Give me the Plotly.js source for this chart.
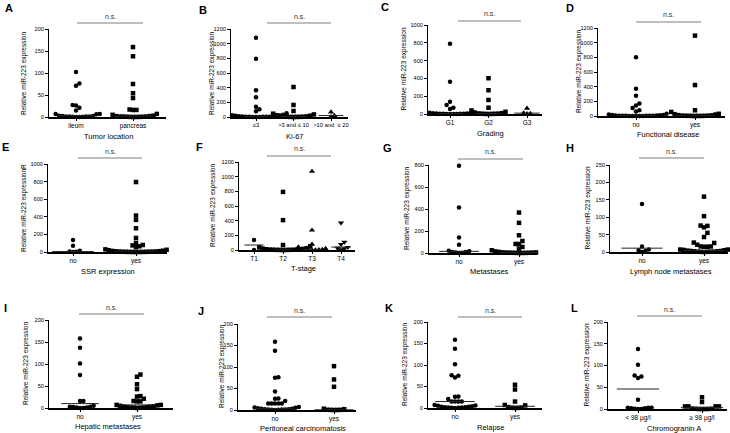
<!DOCTYPE html>
<html><head><meta charset="utf-8">
<script src="https://cdn.plot.ly/plotly-3.0.1.min.js"></script>
<style>html,body{margin:0;padding:0;background:#fff}#chart{width:730px;height:433px}</style>
</head><body><div id="chart"></div>
<script>
const yTitle = 'Relative miR-223 expression';

// A: Tumor location
const catsA = ['ileum', 'pancreas'];
const A_ileum = [102, 76, 71, 27, 26, 21, 15, 7, 7, 6, 3, 2, 2, 1, 1, 1, 1, 0.5, 0.5, 0.2, 0];
const A_pancreas = [159, 138, 75, 54, 43, 17, 16, 16, 7, 5, 3, 2, 2, 1, 1, 1, 0.5, 0.5, 0.3, 0.2, 0.1, 0];
const linesA = [3, 2];

// B: Ki-67
const catsB = ['≤3', '>3 and ≤ 10', '>10 and  ≤ 20'];
const B_le3 = [1080, 795, 365, 268, 141, 105, 77, 50, 40, 30, 25, 20, 16, 12, 10, 8, 6, 5, 4, 3, 2, 2, 1, 1, 0];
const B_3to10 = [409, 164, 82, 45, 35, 25, 18, 12, 8, 6, 4, 3, 2, 1, 1, 0];
const B_10to20 = [68, 20, 5];
const linesB = [5, 5, 20];

// C: Grading
const catsC = ['G1', 'G2', 'G3'];
const C_G1 = [789, 361, 139, 101, 71, 56, 30, 20, 15, 10, 8, 6, 5, 4, 3, 2, 2, 1, 1, 0.5, 0];
const C_G2 = [402, 267, 158, 71, 40, 25, 15, 10, 6, 4, 3, 2, 1, 1, 0];
const C_G3 = [64, 10, 5, 2];
const linesC = [5, 5, 10];

// D: Functional disease
const catsD = ['no', 'yes'];
const D_no = [802, 371, 275, 170, 142, 110, 78, 60, 30, 20, 15, 12, 10, 8, 6, 5, 4, 3, 3, 2, 2, 1, 1, 0.5, 0.5, 0];
const D_yes = [1096, 422, 78, 55, 30, 25, 20, 12, 8, 5, 4, 3, 2, 2, 1, 1, 0.5, 0];
const linesD = [10, 5];

// E: SSR expression
const catsE = ['no', 'yes'];
const E_no = [137, 72, 15, 5, 2, 0];
const E_yes = [795, 414, 365, 270, 160, 103, 80, 75, 65, 55, 30, 25, 20, 15, 12, 10, 8, 6, 5, 4, 3, 3, 2, 2, 1, 1, 0.5, 0.5, 0];
const linesE = [5, 10];

// F: T-stage
const catsF = ['T1', 'T2', 'T3', 'T4'];
const F_T1 = [136, 0];
const F_T2 = [792, 407, 68, 50, 35, 25, 20, 15, 10, 8, 6, 5, 4, 3, 2, 2, 1, 1, 0];
const F_T3 = [1072, 271, 77, 40, 20, 10, 6, 4, 3, 2, 1, 0];
const F_T4 = [371, 109, 77, 36, 25, 20, 5];
const linesF = [68, 10, 5, 40];

// G: Metastases
const catsG = ['no', 'yes'];
const G_no = [793, 413, 140, 76, 20, 15, 10, 8, 5, 3, 0];
const G_yes = [368, 274, 161, 109, 82, 82, 55, 40, 30, 25, 20, 15, 12, 10, 8, 6, 5, 4, 3, 3, 2, 2, 1, 1, 0.5, 0];
const linesG = [15, 5];

// H: Lymph node metastases
const catsH = ['no', 'yes'];
const H_no = [138, 16, 7, 5, 3, 0];
const H_yes = [159, 103, 76, 75, 71, 55, 43, 27, 26, 21, 16, 16, 15, 15, 7, 7, 6, 5, 4, 3, 3, 2, 2, 1, 1, 1, 0.5, 0.5, 0];
const linesH = [11, 4];

// I: Hepatic metastases
const catsI = ['no', 'yes'];
const I_no = [158, 137, 101, 75, 16, 16, 5, 3, 3, 2, 1, 1, 0, 0];
const I_yes = [76, 71, 54, 43, 27, 26, 21, 16, 15, 15, 7, 7, 6, 5, 4, 3, 3, 2, 2, 1, 1, 1, 0.5, 0];
const linesI = [10, 7];

// J: Peritoneal carcinomatosis
const catsJ = ['no', 'yes'];
const J_no = [159, 138, 76, 75, 43, 27, 26, 21, 15, 15, 15, 15, 15, 7, 6, 5, 4, 3, 3, 2, 2, 1, 1, 1, 0.5, 0.5, 0];
const J_yes = [102, 71, 54, 3, 2, 0.5, 0.3, 0.2, 0.1, 0];
const linesJ = [3, 0.5];

// K: Relapse
const catsK = ['no', 'yes'];
const K_no = [159, 138, 102, 76, 75, 71, 27, 26, 21, 15, 15, 15, 15, 7, 6, 5, 4, 3, 3, 2, 2, 1, 1, 0.5, 0.5, 0];
const K_yes = [54, 43, 15, 7, 6, 2, 1, 0.5, 0.2, 0];
const linesK = [15, 4];

// L: Chromogranin A
const catsL = ['< 98 µg/l', '≥ 98 µg/l'];
const L_lt98 = [138, 102, 77, 75, 71, 21, 3, 3, 3, 2, 2, 0.5, 0, 0];
const L_ge98 = [27, 16, 6, 6, 6, 6, 1, 0.5, 0.5, 0.2, 0, 0, 0];
const linesL = [46, 3];

// ---------------- layout geometry (pixels) ----------------
const panels = [
  {letter:'A', cats:catsA, series:[A_ileum, A_pancreas], lines:linesA, sym:['circle','square'], xt:'Tumor location', yt:yTitle, ymax:200, dtick:50,
   l:49, r:166, t:29, b:117, c0:76, cu:57, ns:[77,143,23], let:[9,8], ytx:24, xtp:[108,136]},
  {letter:'B', cats:catsB, series:[B_le3, B_3to10, B_10to20], lines:linesB, sym:['circle','square','triangle-up'], xt:'Ki-67', yt:yTitle, ymax:1200, dtick:200,
   l:231, r:348, t:29, b:117, c0:256, cu:37.5, ns:[267,331,23], let:[203,10], ytx:212, xtp:[295,136], tfs:5.8},
  {letter:'C', cats:catsC, series:[C_G1, C_G2, C_G3], lines:linesC, sym:['circle','square','triangle-up'], xt:'Grading', yt:yTitle, ymax:1000, dtick:200,
   l:428, r:542, t:25, b:114, c0:450, cu:38.5, ns:[458,521,21], let:[385,7], ytx:403, xtp:[490,133]},
  {letter:'D', cats:catsD, series:[D_no, D_yes], lines:linesD, sym:['circle','square'], xt:'Functional disease', yt:yTitle, ymax:1200, dtick:200,
   l:598, r:725, t:28, b:116, c0:636, cu:59, ns:[636,701,22], let:[570,8], ytx:579, xtp:[668,134]},
  {letter:'E', cats:catsE, series:[E_no, E_yes], lines:linesE, sym:['circle','square'], xt:'SSR expression', yt:yTitle + 'R', ymax:1000, dtick:200,
   l:48, r:167, t:164, b:252, c0:73, cu:63, ns:[78,142,158], let:[6,147], ytx:24, xtp:[108,271]},
  {letter:'F', cats:catsF, series:[F_T1, F_T2, F_T3, F_T4], lines:linesF, sym:['circle','square','triangle-up','triangle-down'], xt:'T-stage', yt:yTitle, ymax:1200, dtick:200,
   l:239, r:355, t:162, b:250, c0:254, cu:29, ns:[267,331,156], let:[199,147], ytx:213, xtp:[303,268]},
  {letter:'G', cats:catsG, series:[G_no, G_yes], lines:linesG, sym:['circle','square'], xt:'Metastases', yt:yTitle, ymax:800, dtick:200,
   l:429, r:537, t:165, b:253, c0:459, cu:60, ns:[458,523,159], let:[387,148], ytx:407, xtp:[489,271]},
  {letter:'H', cats:catsH, series:[H_no, H_yes], lines:linesH, sym:['circle','square'], xt:'Lymph node metastases', yt:yTitle, ymax:250, dtick:50,
   l:610, r:728, t:165, b:252, c0:642, cu:62, ns:[639,704,158], let:[570,148], ytx:587, xtp:[671,271]},
  {letter:'I', cats:catsI, series:[I_no, I_yes], lines:linesI, sym:['circle','square'], xt:'Hepatic metastases', yt:yTitle, ymax:200, dtick:50,
   l:49, r:173, t:320, b:408, c0:80, cu:57, ns:[79,144,314], let:[5,308], ytx:26, xtp:[108,426]},
  {letter:'J', cats:catsJ, series:[J_no, J_yes], lines:linesJ, sym:['circle','square'], xt:'Peritoneal carcinomatosis', yt:yTitle, ymax:200, dtick:50,
   l:238, r:356, t:324, b:410, c0:275, cu:59, ns:[267,332,317], let:[201,311], ytx:222, xtp:[303,428]},
  {letter:'K', cats:catsK, series:[K_no, K_yes], lines:linesK, sym:['circle','square'], xt:'Relapse', yt:yTitle, ymax:200, dtick:50,
   l:428, r:542, t:322, b:408, c0:455, cu:60, ns:[458,522,317], let:[389,308], ytx:405, xtp:[491,427]},
  {letter:'L', cats:catsL, series:[L_lt98, L_ge98], lines:linesL, sym:['circle','square'], xt:'Chromogranin A', yt:yTitle, ymax:200, dtick:50,
   l:608, r:727, t:322, b:409, c0:638, cu:64, ns:[637,702,316], let:[574,308], ytx:586, xtp:[674,428]}
];

const W = 730, H = 433;
const FONT = 'Liberation Sans, Arial, sans-serif';
const px = x => x / W, py = y => 1 - y / H;

// deterministic beeswarm: returns horizontal offsets (category units)
function swarm(values, pxPerY, pxPerX) {
  const order = values.map((v, i) => i).sort((a, b) => values[a] - values[b]);
  const placed = [], off = new Array(values.length);
  const dY = 4.2, dX = 3.4;
  for (const i of order) {
    const yy = values[i] * pxPerY;
    for (let k = 0; k < 200; k++) {
      const s = k === 0 ? 0 : (k % 2 ? 1 : -1) * Math.ceil(k / 2) * dX;
      if (placed.every(p => Math.abs(p.y - yy) >= dY || Math.abs(p.x - s) >= dX * 0.999)) {
        placed.push({x: s, y: yy}); off[i] = s / pxPerX; break;
      }
    }
  }
  return off;
}

const traces = [];
const layout = {
  width: W, height: H, margin: {l: 0, r: 0, t: 0, b: 0}, showlegend: false,
  paper_bgcolor: '#fff', plot_bgcolor: 'rgba(0,0,0,0)',
  font: {family: FONT, color: '#000', size: 7},
  shapes: [], annotations: []
};

panels.forEach((p, idx) => {
  const n = idx + 1;
  const xk = n === 1 ? 'xaxis' : 'xaxis' + n, yk = n === 1 ? 'yaxis' : 'yaxis' + n;
  const xr = n === 1 ? 'x' : 'x' + n, yr = n === 1 ? 'y' : 'y' + n;
  const pxPerY = (p.b - p.t) / p.ymax;
  p.series.forEach((vals, ci) => {
    const off = swarm(vals, pxPerY, p.cu);
    const sym = p.sym[ci];
    traces.push({
      type: 'scatter', mode: 'markers', xaxis: xr, yaxis: yr, cliponaxis: false,
      x: vals.map((v, i) => ci + off[i]), y: vals,
      marker: {symbol: sym, color: '#000', size: sym.startsWith('triangle') ? 5.5 : 4.5, line: {width: 0}}
    });
    traces.push({
      type: 'scatter', mode: 'lines', xaxis: xr, yaxis: yr, cliponaxis: false,
      x: [ci - 0.33, ci + 0.33], y: [p.lines[ci], p.lines[ci]],
      line: {color: '#222', width: 1}
    });
  });
  layout[xk] = {
    domain: [px(p.l), px(p.r)], anchor: yr,
    range: [(p.l - p.c0) / p.cu, (p.r - p.c0) / p.cu],
    tickmode: 'array', tickvals: p.cats.map((c, i) => i), ticktext: p.cats, tickangle: 0,
    ticks: 'outside', ticklen: 2, tickwidth: 1, tickcolor: '#000',
    showline: true, linecolor: '#000', linewidth: 1.5,
    showgrid: false, zeroline: false, fixedrange: true,
    tickfont: {family: FONT, size: p.tfs || 6.5, color: '#000'}
  };
  layout[yk] = {
    domain: [py(p.b), py(p.t)], anchor: xr,
    range: [0, p.ymax], tickmode: 'linear', tick0: 0, dtick: p.dtick,
    ticks: 'outside', ticklen: 3, tickwidth: 1, tickcolor: '#000',
    showline: true, linecolor: '#000', linewidth: 1,
    showgrid: false, zeroline: false, fixedrange: true,
    tickfont: {family: FONT, size: 5.6, color: '#000'}
  };
  // significance bar
  layout.shapes.push({type: 'line', xref: 'paper', yref: 'paper',
    x0: px(p.ns[0]), x1: px(p.ns[1]), y0: py(p.ns[2]), y1: py(p.ns[2]),
    line: {color: '#a8a8a8', width: 1.5}});
  layout.annotations.push({xref: 'paper', yref: 'paper', x: px((p.ns[0] + p.ns[1]) / 2), y: py(p.ns[2] - 7),
    text: 'n.s.', showarrow: false, xanchor: 'center', yanchor: 'middle', font: {size: 7, color: '#333'}});
  // panel letter
  layout.annotations.push({xref: 'paper', yref: 'paper', x: px(p.let[0]), y: py(p.let[1]),
    text: '<b>' + p.letter + '</b>', showarrow: false, xanchor: 'center', yanchor: 'middle', font: {size: 11, color: '#000'}});
  // axis titles
  layout.annotations.push({xref: 'paper', yref: 'paper', x: px(p.ytx), y: py((p.t + p.b) / 2),
    text: p.yt, textangle: -90, showarrow: false, xanchor: 'center', yanchor: 'middle', font: {size: 6.5, color: '#000'}});
  layout.annotations.push({xref: 'paper', yref: 'paper', x: px(p.xtp[0]), y: py(p.xtp[1]),
    text: p.xt, showarrow: false, xanchor: 'center', yanchor: 'middle', font: {size: 7.5, color: '#000'}});
});

Plotly.newPlot('chart', traces, layout, {staticPlot: true, displayModeBar: false});
</script></body></html>
